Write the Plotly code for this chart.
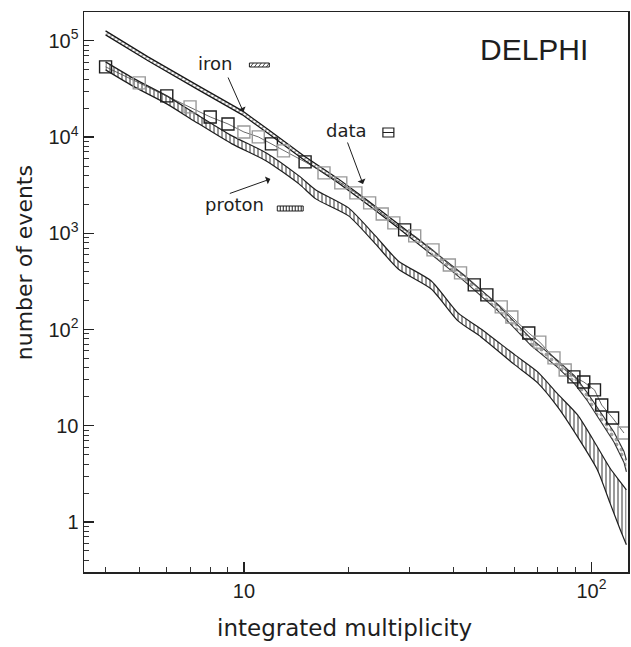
import plotly.graph_objects as go

# ---------------- data ----------------
mult_data = [4, 5, 6, 7, 8, 9, 10, 11, 12, 13, 15, 17, 19, 21, 23, 25, 27, 29, 31,
             35, 39, 42, 46, 50, 55, 59, 66, 71, 78, 84, 89, 95, 102, 107, 115, 124]
events_data = [53700, 36600, 26800, 20600, 16200, 13700, 11300, 10050, 8500, 7190,
               5520, 4245, 3340, 2630, 2070, 1590, 1282, 1085, 940,
               672, 469, 388, 291, 229, 172, 135,
               92, 74, 50.7, 38, 32.2, 28.5, 23.6, 16.4, 12.05, 8.4]

proton_mult = [4, 4.84, 6, 7.19, 9.24, 11.6, 14.4, 16.1, 20.0, 23.9, 27.8, 34.6,
               41.3, 48.1, 60.2, 70.0, 79.9, 91.2, 104, 113, 121, 126]
proton_hi = [60500, 40270, 26810, 17850, 10290, 6850, 3952, 2826, 1837, 940, 516, 320,
             149, 101.4, 54.5, 36.3, 21.4, 12.95, 6.02, 3.64, 2.61, 2.15]
proton_lo = [49950, 33240, 22140, 14730, 8500, 5656, 3262, 2279, 1517, 776, 426, 264,
             123, 83.8, 42.9, 27.9, 15.7, 7.65, 3.47, 1.58, 0.83, 0.58]

iron_mult = [4.0, 5.3, 7.4, 9.9, 11.8, 14.9, 18.7, 22.8, 27.8, 34.6,
             43.3, 53.8, 66.9, 79.9, 89.4, 97.4, 106, 116, 124, 126]
iron_hi = [127000, 68200, 34050, 18720, 11870, 6376, 3677, 2171, 1252, 681,
           361, 180.2, 80.8, 47.7, 32.9, 21.9, 13.76, 8.62, 5.40, 4.41]
iron_lo = [115400, 62000, 30940, 17020, 10790, 5794, 3341, 1973, 1138, 604,
           313, 156.1, 68.4, 40.4, 27.2, 18.1, 11.09, 6.79, 4.16, 3.31]

y_tickvals = [1, 10, 100, 1000, 10000, 100000]
y_ticktext = ["1", "10", "10<sup>2</sup>", "10<sup>3</sup>", "10<sup>4</sup>", "10<sup>5</sup>"]
x_tickvals = [10, 100]
x_ticktext = ["10", "10<sup>2</sup>"]

# ---------------- styles ----------------
INK = "#1e1e1e"
GRAY = "#9a9a9a"
data_colors = [INK, GRAY, INK, GRAY, INK, INK, GRAY, GRAY, INK, GRAY,
               INK, GRAY, GRAY, GRAY, GRAY, GRAY, GRAY, INK, GRAY,
               GRAY, GRAY, GRAY, INK, INK, GRAY, GRAY,
               INK, GRAY, GRAY, GRAY, INK, INK, INK, INK, INK, GRAY]
TXT_FONT = "DejaVu Sans"
NUM_FONT = "Liberation Sans"

fig = go.Figure()

# proton band (vertical hatching)
fig.add_trace(go.Scatter(x=proton_mult, y=proton_lo, mode="lines",
                         line=dict(color=INK, width=1.2, shape="spline", smoothing=0.6),
                         hoverinfo="skip"))
fig.add_trace(go.Scatter(x=proton_mult, y=proton_hi, mode="lines",
                         line=dict(color=INK, width=1.2, shape="spline", smoothing=0.6),
                         fill="tonexty", fillcolor="rgba(0,0,0,0)",
                         fillpattern=dict(shape="|", fgcolor=INK, bgcolor="white",
                                          size=4, solidity=0.45),
                         hoverinfo="skip"))

# iron band, hatched part
n_h = 10
fig.add_trace(go.Scatter(x=iron_mult[:n_h], y=iron_lo[:n_h], mode="lines",
                         line=dict(color="#151515", width=1.2), hoverinfo="skip"))
fig.add_trace(go.Scatter(x=iron_mult[:n_h], y=iron_hi[:n_h], mode="lines",
                         line=dict(color="#151515", width=1.2), fill="tonexty",
                         fillcolor="rgba(0,0,0,0)",
                         fillpattern=dict(shape="/", fgcolor="#333", bgcolor="white",
                                          size=4, solidity=0.4),
                         hoverinfo="skip"))
# iron band, circle-like part
fig.add_trace(go.Scatter(x=iron_mult[n_h - 1:], y=iron_lo[n_h - 1:], mode="lines",
                         line=dict(color="#333", width=1.1), hoverinfo="skip"))
fig.add_trace(go.Scatter(x=iron_mult[n_h - 1:], y=iron_hi[n_h - 1:], mode="lines",
                         line=dict(color="#333", width=1.1),
                         fill="tonexty", fillcolor="rgba(0,0,0,0)",
                         fillpattern=dict(shape=".", fgcolor="#444", bgcolor="white",
                                          size=5, solidity=0.5),
                         hoverinfo="skip"))

# data
fig.add_trace(go.Scatter(x=mult_data, y=events_data, mode="lines+markers",
                         line=dict(color="#444", width=0.8),
                         marker=dict(symbol="square-open", size=12,
                                     color=data_colors,
                                     line=dict(width=1.4, color=data_colors)),
                         hoverinfo="skip"))

# ---------------- annotations ----------------
def px_x(p):
    return (p - 84) / 546.0


def px_y(p):
    return (572 - p) / 560.0


def label(text, px, py, size, family=TXT_FONT, **kw):
    return dict(text=text, x=px_x(px), y=px_y(py), xref="paper", yref="paper",
                xanchor="center", yanchor="middle", showarrow=False,
                font=dict(family=family, size=size, color=INK), **kw)


ann = [
    label("iron", 215, 63, 18),
    label("data", 347, 130, 18),
    label("proton", 235, 204, 18),
    label("DELPHI", 536, 50, 30, family=NUM_FONT),
    label("integrated multiplicity", 345, 628, 23),
    label("number of events", 24, 263, 22, textangle=-90),
]
# arrows
for hx, hy, tx, ty in [(244, 112, 228, 76), (364, 184, 348, 141), (271, 179, 229, 194)]:
    ann.append(dict(text="", x=px_x(hx), y=px_y(hy), xref="paper", yref="paper",
                    ax=tx - hx, ay=ty - hy, showarrow=True, arrowhead=1,
                    arrowsize=1.4, arrowwidth=1, arrowcolor=INK))

# ---------------- legend swatches ----------------
shapes = []
# iron swatch (diagonal hatch)
shapes.append(dict(type="rect", xref="paper", yref="paper",
                   x0=px_x(250), x1=px_x(270), y0=px_y(67), y1=px_y(63),
                   line=dict(color=INK, width=1), fillcolor="white"))
for k in range(5):
    xa = 251 + 4 * k
    shapes.append(dict(type="line", xref="paper", yref="paper",
                       x0=px_x(xa), x1=px_x(xa + 3), y0=px_y(67), y1=px_y(63),
                       line=dict(color=INK, width=0.8)))
# proton swatch (vertical hatch)
shapes.append(dict(type="rect", xref="paper", yref="paper",
                   x0=px_x(278), x1=px_x(304), y0=px_y(211), y1=px_y(206),
                   line=dict(color=INK, width=1), fillcolor="white"))
for k in range(8):
    xa = 281 + 3 * k
    shapes.append(dict(type="line", xref="paper", yref="paper",
                       x0=px_x(xa), x1=px_x(xa), y0=px_y(211), y1=px_y(206),
                       line=dict(color=INK, width=1)))
# data swatch (square with midline)
shapes.append(dict(type="rect", xref="paper", yref="paper",
                   x0=px_x(384), x1=px_x(395), y0=px_y(137), y1=px_y(128),
                   line=dict(color=INK, width=1.2), fillcolor="white"))
shapes.append(dict(type="line", xref="paper", yref="paper",
                   x0=px_x(384), x1=px_x(395), y0=px_y(132.5), y1=px_y(132.5),
                   line=dict(color=INK, width=1)))

minor_vals = [m * 10 ** k for k in range(-1, 6) for m in range(2, 10)]

axis_common = dict(type="log", showline=True, mirror=True, linecolor="#222",
                   linewidth=1.5, ticks="inside", ticklen=10, tickwidth=1.2,
                   tickcolor="#222", showgrid=False, zeroline=False,
                   tickfont=dict(family=NUM_FONT, size=20, color=INK),
                   minor=dict(tickmode="array", tickvals=minor_vals, ticks="inside",
                              ticklen=5, tickwidth=1, tickcolor="#333", showgrid=False))

fig.update_layout(
    width=631, height=647,
    margin=dict(l=84, r=1, t=12, b=75, pad=0),
    paper_bgcolor="white", plot_bgcolor="white",
    showlegend=False,
    hovermode=False,
    xaxis=dict(range=[0.540, 2.105], tickmode="array", tickvals=x_tickvals,
               ticktext=x_ticktext, **axis_common),
    yaxis=dict(range=[-0.52, 5.30], tickmode="array", tickvals=y_tickvals,
               ticktext=y_ticktext, **axis_common),
    annotations=ann,
    shapes=shapes,
)

fig.write_html("out.html",
               config={"displayModeBar": False, "staticPlot": True},
               post_script="document.body.style.margin='0px';"
                           "document.body.style.overflow='hidden';")
